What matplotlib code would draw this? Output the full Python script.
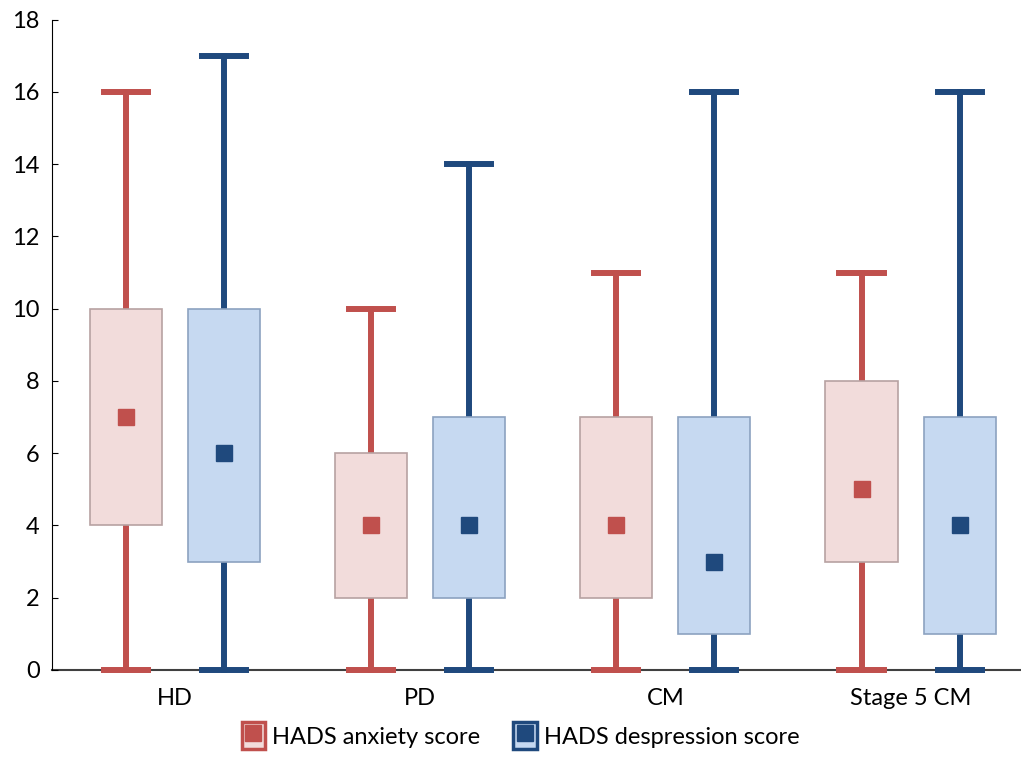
import matplotlib.pyplot as plt
from matplotlib.patches import Rectangle
from matplotlib.lines import Line2D

# Dados
groups = ['HD', 'PD', 'CM', 'Stage 5 CM']
anx_min = [0, 0, 0, 0]
anx_q1 = [4, 2, 2, 3]
anx_q3 = [10, 6, 7, 8]
anx_max = [16, 10, 11, 11]
anx_mean = [7, 4, 4, 5]

dep_min = [0, 0, 0, 0]
dep_q1 = [3, 2, 1, 1]
dep_q3 = [10, 7, 7, 7]
dep_max = [17, 14, 16, 16]
dep_mean = [6, 4, 3, 4]

red, red_fill, red_edge = '#C0504D', '#F2DCDB', '#B7A2A2'
blue, blue_fill, blue_edge = '#1F497D', '#C6D9F1', '#8CA2C0'

plt.rcParams['font.family'] = ['Lato', 'DejaVu Sans']

fig = plt.figure(figsize=(10.21, 7.57), dpi=100)
ax = fig.add_axes([0.051, 0.115, 0.949, 0.859])


def make_stats(mn, q1, q3, mx, mean):
    return [{'whislo': a, 'q1': b, 'med': m, 'q3': c, 'whishi': d, 'mean': m, 'fliers': []}
            for a, b, c, d, m in zip(mn, q1, q3, mx, mean)]


offset = 0.2
width = 0.294
xs = list(range(len(groups)))

for stats, pos, col, fill, edge in [
    (make_stats(anx_min, anx_q1, anx_q3, anx_max, anx_mean), [x - offset for x in xs], red, red_fill, red_edge),
    (make_stats(dep_min, dep_q1, dep_q3, dep_max, dep_mean), [x + offset for x in xs], blue, blue_fill, blue_edge),
]:
    art = ax.bxp(stats, positions=pos, widths=width, capwidths=0.18, patch_artist=True,
                 showmeans=True, showfliers=False, manage_ticks=False,
                 boxprops=dict(facecolor=fill, edgecolor=edge, linewidth=1.2, zorder=3),
                 whiskerprops=dict(color=col, linewidth=4.3, zorder=2),
                 capprops=dict(color=col, linewidth=4.3, zorder=2),
                 medianprops=dict(visible=False),
                 meanprops=dict(marker='s', markersize=12, markerfacecolor=col, markeredgecolor=col, zorder=4))
    for ln in art['caps'] + art['whiskers']:
        ln.set_clip_on(False)

ax.set_xlim(-0.5, 3.45)
ax.set_ylim(0, 18)
ax.set_yticks(range(0, 19, 2))
ax.set_xticks(xs)
ax.set_xticklabels(groups)
ax.tick_params(axis='y', direction='in', length=4, labelsize=17, pad=9)
ax.tick_params(axis='x', length=0, labelsize=17, pad=13)
ax.spines['top'].set_visible(False)
ax.spines['right'].set_visible(False)
ax.spines['bottom'].set_color('#404040')
ax.spines['bottom'].set_linewidth(1.5)
ax.spines['bottom'].set_zorder(1)

h1 = (Rectangle((0, 0), 1, 1, facecolor=red_fill, edgecolor=red, linewidth=2.5),
      Line2D([], [], marker='s', color=red, markersize=11, linestyle='none'))
h2 = (Rectangle((0, 0), 1, 1, facecolor=blue_fill, edgecolor=blue, linewidth=2.5),
      Line2D([], [], marker='s', color=blue, markersize=11, linestyle='none'))
fig.legend([h1, h2], ['HADS anxiety score', 'HADS despression score'],
           loc='lower center', bbox_to_anchor=(0.51, -0.018), ncol=2, frameon=False,
           fontsize=17, handlelength=1.0, handleheight=1.4, handletextpad=0.3, columnspacing=1.4)

fig.savefig('out.png', dpi=100)
